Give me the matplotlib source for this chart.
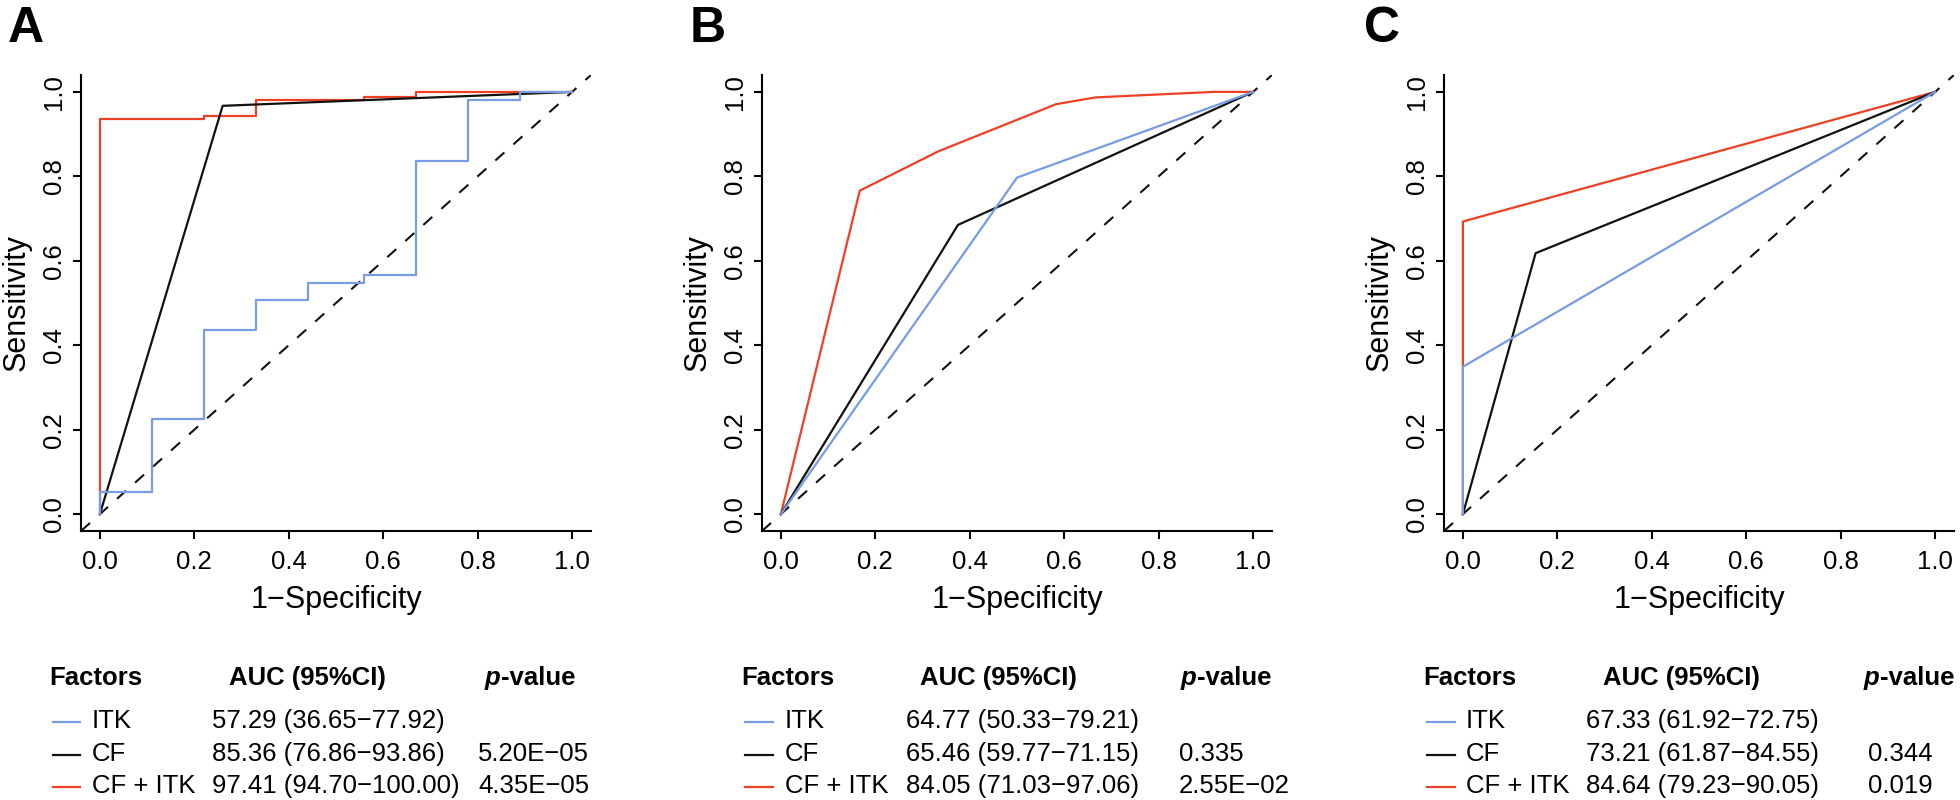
import matplotlib
matplotlib.use("Agg")
import matplotlib.pyplot as plt

plt.rcParams['font.family'] = ['Liberation Sans', 'DejaVu Sans']

BLUE = '#779CE2'
RED = '#EE4024'
BLACK = '#111111'

# ---- ROC curves: (1-specificity, sensitivity) ----
# panel A: step curves (steps-post), CF is a plain polyline
a_itk_fpr = [0, 0, 0.11, 0.22, 0.33, 0.44, 0.56, 0.67, 0.78, 0.89, 1.0]
a_itk_tpr = [0, 0.052, 0.226, 0.437, 0.508, 0.547, 0.566, 0.837, 0.981, 1.0, 1.0]
a_cf_fpr = [0, 0.26, 1.0]
a_cf_tpr = [0, 0.967, 1.0]
a_comb_fpr = [0, 0, 0.22, 0.33, 0.56, 0.67, 1.0]
a_comb_tpr = [0, 0.935, 0.943, 0.981, 0.989, 1.0, 1.0]

# panel B
b_itk_fpr = [0, 0.50, 1.0]
b_itk_tpr = [0, 0.797, 1.0]
b_cf_fpr = [0, 0.375, 1.0]
b_cf_tpr = [0, 0.685, 1.0]
b_comb_fpr = [0, 0.167, 0.333, 0.583, 0.667, 0.917, 1.0]
b_comb_tpr = [0, 0.766, 0.859, 0.971, 0.987, 1.0, 1.0]

# panel C
c_itk_fpr = [0, 0, 1.0]
c_itk_tpr = [0, 0.349, 1.0]
c_cf_fpr = [0, 0.154, 1.0]
c_cf_tpr = [0, 0.618, 1.0]
c_comb_fpr = [0, 0, 1.0]
c_comb_tpr = [0, 0.693, 1.0]

# ---- table under each panel ----
factors = ['ITK', 'CF', 'CF + ITK']
auc_a = ['57.29 (36.65\u221277.92)', '85.36 (76.86\u221293.86)', '97.41 (94.70\u2212100.00)']
auc_b = ['64.77 (50.33\u221279.21)', '65.46 (59.77\u221271.15)', '84.05 (71.03\u221297.06)']
auc_c = ['67.33 (61.92\u221272.75)', '73.21 (61.87\u221284.55)', '84.64 (79.23\u221290.05)']
pval_a = ['', '5.20E\u221205', '4.35E\u221205']
pval_b = ['', '0.335', '2.55E\u221202']
pval_c = ['', '0.344', '0.019']

W, H = 1960, 800
fig = plt.figure(figsize=(W / 100, H / 100), dpi=100)

# overlay in pixel coords for the letters / tables / labels
ov = fig.add_axes([0, 0, 1, 1], zorder=5)
ov.set_xlim(0, W)
ov.set_ylim(H, 0)
ov.axis('off')

panels = [
    dict(letter='A', left=81, lx=8,
         curves=[(a_comb_fpr, a_comb_tpr, RED, 'steps-post'),
                 (a_cf_fpr, a_cf_tpr, BLACK, 'default'),
                 (a_itk_fpr, a_itk_tpr, BLUE, 'steps-post')],
         auc=auc_a, pval=pval_a,
         cols=dict(fac=49, line=(53, 80), lab=92, auc=212, aucH=229, p=478, pH=485)),
    dict(letter='B', left=762, lx=690,
         curves=[(b_comb_fpr, b_comb_tpr, RED, 'default'),
                 (b_cf_fpr, b_cf_tpr, BLACK, 'default'),
                 (b_itk_fpr, b_itk_tpr, BLUE, 'default')],
         auc=auc_b, pval=pval_b,
         cols=dict(fac=741, line=(745, 773), lab=785, auc=906, aucH=920, p=1179, pH=1181)),
    dict(letter='C', left=1444, lx=1364,
         curves=[(c_comb_fpr, c_comb_tpr, RED, 'default'),
                 (c_cf_fpr, c_cf_tpr, BLACK, 'default'),
                 (c_itk_fpr, c_itk_tpr, BLUE, 'default')],
         auc=auc_c, pval=pval_c,
         cols=dict(fac=1423, line=(1427, 1455), lab=1466, auc=1586, aucH=1603, p=1868, pH=1864)),
]

ax_w, ax_h, ax_top = 510, 456, 75
ticks = [0, 0.2, 0.4, 0.6, 0.8, 1.0]
tick_lbl = ['0.0', '0.2', '0.4', '0.6', '0.8', '1.0']
row_base = [728, 761, 793]
head_base = 685

for p in panels:
    ax = fig.add_axes([p['left'] / W, 1 - (ax_top + ax_h) / H, ax_w / W, ax_h / H])
    ax.set_xlim(-0.04, 1.04)
    ax.set_ylim(-0.04, 1.04)
    ax.axline((0, 0), (1, 1), color=BLACK, lw=1.5, linestyle=(0, (5.8, 5.8)))
    for fpr, tpr, col, ds in p['curves']:
        ax.plot(fpr, tpr, color=col, lw=1.6, drawstyle=ds)

    for s in ['top', 'right']:
        ax.spines[s].set_visible(False)
    for s in ['left', 'bottom']:
        ax.spines[s].set_linewidth(1.5)
    ax.set_xticks(ticks)
    ax.set_xticklabels(tick_lbl)
    ax.set_yticks(ticks)
    ax.set_yticklabels(tick_lbl, rotation=90, va='center')
    ax.tick_params(axis='both', direction='out', length=6, width=1.5, labelsize=18.5)
    ax.tick_params(axis='x', pad=8)
    ax.tick_params(axis='y', pad=4.5)

    L = p['left']
    ov.text(L + ax_w / 2, 608, '1\u2212Specificity', fontsize=22, ha='center', va='baseline')
    ov.text(L - 56, ax_top + ax_h / 2, 'Sensitivity', fontsize=22, rotation=90,
            rotation_mode='anchor', ha='center', va='baseline')
    ov.text(p['lx'], 42, p['letter'], fontsize=36, fontweight='bold', ha='left', va='baseline')

    c = p['cols']
    ov.text(c['fac'], head_base, 'Factors', fontsize=18.5, fontweight='bold', va='baseline')
    ov.text(c['aucH'], head_base, 'AUC (95%CI)', fontsize=18.5, fontweight='bold', va='baseline')
    pt = ov.text(c['pH'], head_base, 'p', fontsize=18.5, fontweight='bold', style='italic',
                 va='baseline')
    ov.annotate('-value', xy=(1, 0), xycoords=pt, fontsize=18.5, fontweight='bold',
                ha='left', va='bottom')
    for i, name in enumerate(factors):
        y = row_base[i]
        col = [BLUE, BLACK, RED][i]
        ov.plot(c['line'], [y - 6, y - 6], color=col, lw=1.6)
        ov.text(c['lab'], y, name, fontsize=18.5, va='baseline')
        ov.text(c['auc'], y, p['auc'][i], fontsize=18.5, va='baseline')
        ov.text(c['p'], y, p['pval'][i], fontsize=18.5, va='baseline')

fig.savefig('out.png', dpi=100)
